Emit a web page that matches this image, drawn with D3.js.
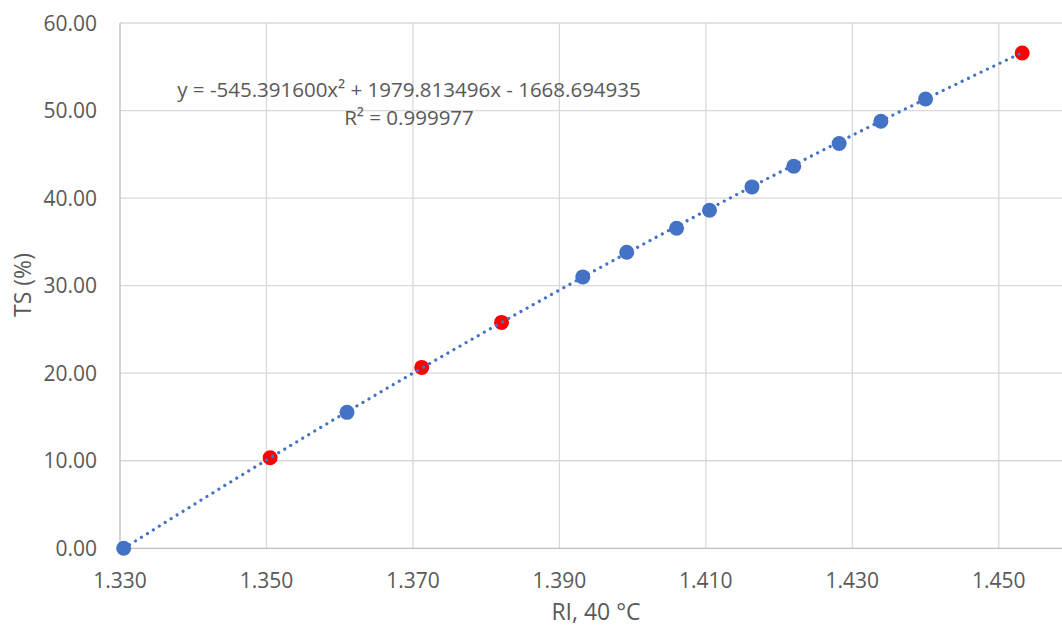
<!DOCTYPE html>
<html><head><meta charset="utf-8">
<script src="https://cdn.jsdelivr.net/npm/d3@7"></script>
<style>body{margin:0;background:#fff}svg{display:block}text{font-family:"Open Sans",sans-serif;fill:#595959}</style>
</head><body><svg id="c" width="1062" height="628"></svg>
<script>
const blueRI = [1.3305, 1.3610, 1.3932, 1.3992, 1.4060, 1.4105, 1.4163, 1.4220, 1.4282, 1.4339, 1.4400];
const blueTS = [0.00, 15.53, 31.00, 33.82, 36.56, 38.62, 41.28, 43.64, 46.23, 48.78, 51.32];
const redRI = [1.3505, 1.3712, 1.3821, 1.4532];
const redTS = [10.34, 20.66, 25.80, 56.58];
const fitCoef = [-545.391600, 1979.813496, -1668.694935];
const xTicks = [1.33, 1.35, 1.37, 1.39, 1.41, 1.43, 1.45];
const yTicks = [0, 10, 20, 30, 40, 50, 60];
const eqText = "y = -545.391600x² + 1979.813496x - 1668.694935";
const r2Text = "R² = 0.999977";

const svg = d3.select("#c");
const x = d3.scaleLinear().domain([1.33, 1.46]).range([120, 1072]);
const y = d3.scaleLinear().domain([0, 60]).range([548.3, 23]);

// gridlines
svg.append("g").selectAll("line").data(yTicks.slice(1)).join("line")
  .attr("x1", 120).attr("x2", 1072).attr("y1", d => y(d)).attr("y2", d => y(d))
  .attr("stroke", "#d9d9d9").attr("stroke-width", 1.3);
svg.append("g").selectAll("line").data(xTicks.slice(1)).join("line")
  .attr("y1", y(0)).attr("y2", y(60)).attr("x1", d => x(d)).attr("x2", d => x(d))
  .attr("stroke", "#d9d9d9").attr("stroke-width", 1.3);
// axis lines
svg.append("line").attr("x1", x(1.33)).attr("x2", x(1.33)).attr("y1", y(0)).attr("y2", y(60)).attr("stroke", "#bfbfbf").attr("stroke-width", 1.3);
svg.append("line").attr("x1", 120).attr("x2", 1072).attr("y1", y(0)).attr("y2", y(0)).attr("stroke", "#bfbfbf").attr("stroke-width", 1.3);

// tick labels
svg.append("g").selectAll("text").data(yTicks).join("text")
  .attr("x", 97).attr("y", d => y(d)).attr("dy", "0.36em").attr("text-anchor", "end")
  .style("font-size", "21px").text(d => d.toFixed(2));
svg.append("g").selectAll("text").data(xTicks).join("text")
  .attr("x", d => x(d)).attr("y", 580).attr("dy", "0.36em").attr("text-anchor", "middle")
  .style("font-size", "21px").text(d => d.toFixed(3));

// axis titles
svg.append("text").attr("transform", "translate(23,285) rotate(-90)").attr("dy", "0.36em")
  .attr("text-anchor", "middle").style("font-size", "23px").text("TS (%)");
svg.append("text").attr("x", 596).attr("y", 612).attr("dy", "0.36em")
  .attr("text-anchor", "middle").style("font-size", "23px").text("RI, 40 °C");

// markers
const allRI = blueRI.concat(redRI);
svg.append("g").selectAll("circle").data(blueRI.map((v, i) => [v, blueTS[i]])).join("circle")
  .attr("cx", d => x(d[0])).attr("cy", d => y(d[1])).attr("r", 7.5).attr("fill", "#4472C4");
svg.append("g").selectAll("circle").data(redRI.map((v, i) => [v, redTS[i]])).join("circle")
  .attr("cx", d => x(d[0])).attr("cy", d => y(d[1])).attr("r", 7.5).attr("fill", "#FF0000");

// trendline
const [a, b, c] = fitCoef;
const x0 = d3.min(allRI), x1 = d3.max(allRI);
const pts = d3.range(0, 201).map(i => { const v = x0 + (x1 - x0) * i / 200; return [v, a * v * v + b * v + c]; });
svg.append("path").datum(pts)
  .attr("d", d3.line().x(d => x(d[0])).y(d => y(d[1])))
  .attr("fill", "none").attr("stroke", "#4472C4").attr("stroke-width", 3.2)
  .attr("stroke-linecap", "round").attr("stroke-dasharray", "0.01 7");

// equation
svg.append("text").attr("x", 409).attr("y", 90).attr("dy", "0.36em").attr("text-anchor", "middle")
  .style("font-size", "20.5px").text(eqText);
svg.append("text").attr("x", 409).attr("y", 118).attr("dy", "0.36em").attr("text-anchor", "middle")
  .style("font-size", "20.5px").text(r2Text);
</script></body></html>
